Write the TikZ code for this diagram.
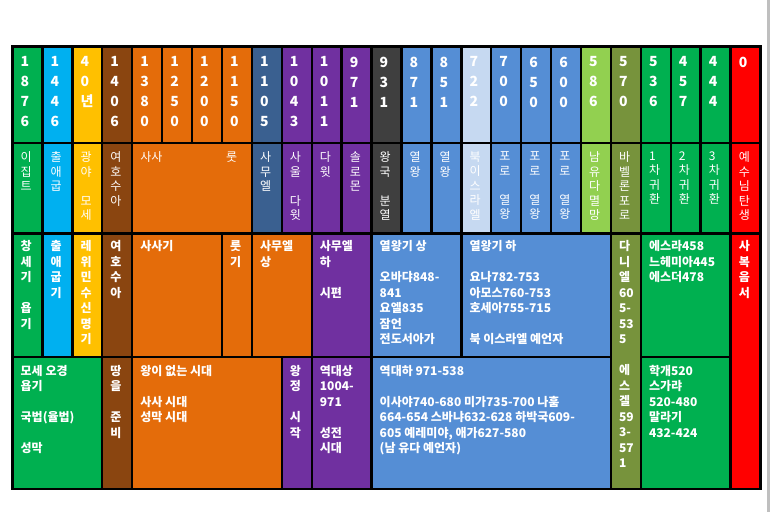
\documentclass[tikz,border=0pt]{standalone}
\usepackage{fontspec}
\setmainfont{Noto Sans CJK KR}

\definecolor{egypt}{HTML}{00B050}
\definecolor{exodus}{HTML}{00B0F0}
\definecolor{desert}{HTML}{FFC000}
\definecolor{joshua}{HTML}{8A4510}
\definecolor{judges}{HTML}{E46C0A}
\definecolor{slate}{HTML}{3A6090}
\definecolor{kings}{HTML}{7030A0}
\definecolor{split}{HTML}{3F3F3F}
\definecolor{blue}{HTML}{558ED5}
\definecolor{north}{HTML}{C6D9F1}
\definecolor{fall}{HTML}{92D050}
\definecolor{exile}{HTML}{77933C}
\definecolor{jesus}{HTML}{FF0000}

% cell of the table: name, first column, column after the last, top, bottom, fill
\newcommand{\tcell}[6]{%
  \node[box, fill=#6, minimum width={29.92*(#3-#2)}, minimum height={#5-#4}] (#1) at ({12.5+29.92*#2},#4) {};}

\begin{document}
\begin{tikzpicture}[
                  x=1pt, y=-1pt,
                  box/.style={draw=black, line width=2.4pt, outer sep=0pt, inner sep=0pt, anchor=north west},
                  num/.style={text=white, font=\bfseries\fontsize{14}{20}\selectfont, align=left, inner sep=0pt, anchor=north west},
                  thin/.style={text=white, font=\fontsize{12}{14.5}\selectfont, align=left, inner sep=0pt, anchor=north west},
                  lbl/.style={text=white, font=\bfseries\fontsize{12}{15.5}\selectfont, align=left, inner sep=0pt, anchor=north west}
                ]
                  \useasboundingbox (0,0) rectangle (773,512);
                  \draw[black!25, line width=3pt] (768,0) -- (768,512);

                  % years
                  \foreach \c/\yr [count=\i from 0] in {
                      egypt/{1\\8\\7\\6}, exodus/{1\\4\\4\\6}, desert/{4\\0\\년}, joshua/{1\\4\\0\\6},
                      judges/{1\\3\\8\\0}, judges/{1\\2\\5\\0}, judges/{1\\2\\0\\0}, judges/{1\\1\\5\\0},
                      slate/{1\\1\\0\\5}, kings/{1\\0\\4\\3}, kings/{1\\0\\1\\1}, kings/{9\\7\\1},
                      split/{9\\3\\1}, blue/{8\\7\\1}, blue/{8\\5\\1}, north/{7\\2\\2},
                      blue/{7\\0\\0}, blue/{6\\5\\0}, blue/{6\\0\\0}, fall/{5\\8\\6},
                      exile/{5\\7\\0}, egypt/{5\\3\\6}, egypt/{4\\5\\7}, egypt/{4\\4\\4}, jesus/{0}} {
                    \node[box, fill=\c, minimum width=29.92pt, minimum height=96.5pt] (year\i) at ({12.5+29.92*\i},46.5) {};
                    \node[num] (yeart\i) at ([shift={(8,10)}]year\i.north west) {\yr};
                  }

                  % events
                  \foreach \i/\c/\ev in {
                      0/egypt/{이\\집\\트}, 1/exodus/{출\\애\\굽}, 2/desert/{광\\야\\~\\모\\세}, 3/joshua/{여\\호\\수\\아},
                      8/slate/{사\\무\\엘}, 9/kings/{사\\울\\~\\다\\윗}, 10/kings/{다\\윗}, 11/kings/{솔\\로\\몬},
                      12/split/{왕\\국\\~\\분\\열}, 13/blue/{열\\왕}, 14/blue/{열\\왕}, 15/north/{북\\이\\스\\라\\엘},
                      16/blue/{포\\로\\~\\열\\왕}, 17/blue/{포\\로\\~\\열\\왕}, 18/blue/{포\\로\\~\\열\\왕},
                      19/fall/{남\\유\\다\\멸\\망}, 20/exile/{바\\벨\\론\\포\\로},
                      21/egypt/{1\\차\\귀\\환}, 22/egypt/{2\\차\\귀\\환}, 23/egypt/{3\\차\\귀\\환}, 24/jesus/{예\\수\\님\\탄\\생}} {
                    \tcell{event\i}{\i}{\i+1}{143}{233.5}{\c}
                    \node[thin] (eventt\i) at ([shift={(8,8.5)}]event\i.north west) {\ev};
                  }
                  \tcell{judges}{4}{8}{143}{233.5}{judges}
                  \node[thin] (judgest) at ([shift={(8,8.5)}]judges.north west) {사사};
                  \node[thin] (rutht) at ([shift={(-26,8.5)}]judges.north east) {룻};

                  % books
                  \tcell{gen}{0}{1}{233.5}{357}{egypt}
                  \node[lbl] (gent) at ([shift={(8,7)}]gen.north west) {창\\세\\기\\~\\욥\\기};
                  \tcell{exo}{1}{2}{233.5}{357}{exodus}
                  \node[lbl] (exot) at ([shift={(8,7)}]exo.north west) {출\\애\\굽\\기};
                  \tcell{lev}{2}{3}{233.5}{357}{desert}
                  \node[lbl] (levt) at ([shift={(8,7)}]lev.north west) {레\\위\\민\\수\\신\\명\\기};
                  \tcell{jos}{3}{4}{233.5}{357}{joshua}
                  \node[lbl] (jost) at ([shift={(8,7)}]jos.north west) {여\\호\\수\\아};
                  \tcell{jdg}{4}{7}{233.5}{357}{judges}
                  \node[lbl] (jdgt) at ([shift={(8,7)}]jdg.north west) {사사기};
                  \tcell{rut}{7}{8}{233.5}{357}{judges}
                  \node[lbl] (rutt) at ([shift={(8,7)}]rut.north west) {룻\\기};
                  \tcell{sam}{8}{10}{233.5}{357}{judges}
                  \node[lbl] (samt) at ([shift={(8,7)}]sam.north west) {사무엘\\상};
                  \tcell{samb}{10}{12}{233.5}{357}{kings}
                  \node[lbl] (sambt) at ([shift={(8,7)}]samb.north west) {사무엘\\하\\~\\시편};
                  \tcell{kgs}{12}{15}{233.5}{357}{blue}
                  \node[lbl] (kgst) at ([shift={(8,7)}]kgs.north west) {열왕기 상\\~\\오바댜848-\\841\\요엘835\\잠언\\전도서아가};
                  \tcell{kgsb}{15}{20}{233.5}{357}{blue}
                  \node[lbl] (kgsbt) at ([shift={(8,7)}]kgsb.north west) {열왕기 하\\~\\요나782-753\\아모스760-753\\호세아755-715\\~\\북 이스라엘 예언자};
                  \tcell{dan}{20}{21}{233.5}{489}{exile}
                  \node[lbl] (dant) at ([shift={(8,7)}]dan.north west) {다\\니\\엘\\60\\5-\\53\\5};
                  \node[lbl] (ezkt) at ([shift={(8,131)}]dan.north west) {에\\스\\겔\\59\\3-\\57\\1};
                  \tcell{ezr}{21}{24}{233.5}{357}{egypt}
                  \node[lbl] (ezrt) at ([shift={(8,7)}]ezr.north west) {에스라458\\느헤미아445\\에스더478};
                  \tcell{gsp}{24}{25}{233.5}{489}{jesus}
                  \node[lbl] (gspt) at ([shift={(8,7)}]gsp.north west) {사\\복\\음\\서};

                  % themes
                  \tcell{law}{0}{3}{357}{489}{egypt}
                  \node[lbl] (lawt) at ([shift={(8,8)}]law.north west) {모세 오경\\욥기\\~\\국법(율법)\\~\\성막};
                  \tcell{land}{3}{4}{357}{489}{joshua}
                  \node[lbl] (landt) at ([shift={(8,8)}]land.north west) {땅\\을\\~\\준\\비};
                  \tcell{noking}{4}{9}{357}{489}{judges}
                  \node[lbl] (nokingt) at ([shift={(8,8)}]noking.north west) {왕이 없는 시대\\~\\사사 시대\\성막 시대};
                  \tcell{reign}{9}{10}{357}{489}{kings}
                  \node[lbl] (reignt) at ([shift={(8,8)}]reign.north west) {왕\\정\\~\\시\\작};
                  \tcell{chr}{10}{12}{357}{489}{kings}
                  \node[lbl] (chrt) at ([shift={(8,8)}]chr.north west) {역대상\\1004-\\971\\~\\성전\\시대};
                  \tcell{chrb}{12}{20}{357}{489}{blue}
                  \node[lbl] (chrbt) at ([shift={(8,8)}]chrb.north west) {역대하 971-538\\~\\이사야740-680 미가735-700 나훔\\664-654 스바냐632-628 하박국609-\\605 예레미야, 애가627-580\\(남 유다 예언자)};
                  \tcell{hag}{21}{24}{357}{489}{egypt}
                  \node[lbl] (hagt) at ([shift={(8,8)}]hag.north west) {학개520\\스가랴\\520-480\\말라기\\432-424};
                \end{tikzpicture}
\end{document}
